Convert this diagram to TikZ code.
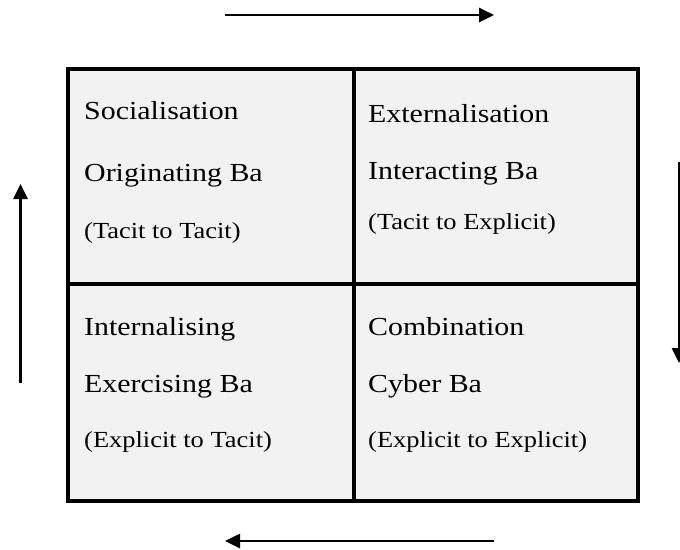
\documentclass[tikz,border=0pt]{standalone}
\usepackage{fontspec}
\setmainfont{Liberation Serif}
\usetikzlibrary{arrows.meta}
\tikzset{
  gridline/.style={line width=4pt, line cap=rect},
  flowarrow/.style={line width=2.6pt, -{Triangle[length=15pt,width=14pt]}},
  big/.style={anchor=base west, inner sep=0pt, font=\fontsize{26}{26}\selectfont},
  small/.style={anchor=base west, inner sep=0pt, font=\fontsize{23}{23}\selectfont}
}
\definecolor{cellgray}{HTML}{F2F2F2}
\newcommand{\wide}[1]{\scalebox{1.15}[1]{#1}}
\begin{document}
\begin{tikzpicture}[x=1pt,y=-1pt]
\useasboundingbox (0,0) rectangle (680,549);
% cells
\fill[cellgray] (68,68.5) rectangle (638,500.5);
\draw[gridline] (68,68.5) rectangle (638,500.5);
\draw[gridline] (353.5,68.5) -- (353.5,500.5);
\draw[gridline] (68,284) -- (638,284);
% texts top-left
\node[big] (soc) at (84,119) {\wide{Socialisation}};
\node[big] (orig) at (84,181) {\wide{Originating Ba}};
\node[small] (tt) at (84,238) {\wide{(Tacit to Tacit)}};
% top-right
\node[big] (ext) at (368,122) {\wide{Externalisation}};
\node[big] (inter) at (368,179) {\wide{Interacting Ba}};
\node[small] (te) at (368,229) {\wide{(Tacit to Explicit)}};
% bottom-left
\node[big] (intl) at (84,335) {\wide{Internalising}};
\node[big] (exer) at (84,392) {\wide{Exercising Ba}};
\node[small] (et) at (84,447) {\wide{(Explicit to Tacit)}};
% bottom-right
\node[big] (comb) at (368,335) {\wide{Combination}};
\node[big] (cyber) at (368,392) {\wide{Cyber Ba}};
\node[small] (ee) at (368,447) {\wide{(Explicit to Explicit)}};
% arrows
\coordinate (ta) at (225,15);
\coordinate (tb) at (494,15);
\coordinate (ra) at (679,162);
\coordinate (rb) at (679,363);
\coordinate (ba) at (494,541);
\coordinate (bb) at (225,541);
\coordinate (la) at (20.5,383);
\coordinate (lb) at (20.5,184);
\draw[flowarrow] (ta) -- (tb);
\draw[flowarrow] (ra) -- (rb);
\draw[flowarrow] (ba) -- (bb);
\draw[flowarrow] (la) -- (lb);
\end{tikzpicture}
\end{document}
